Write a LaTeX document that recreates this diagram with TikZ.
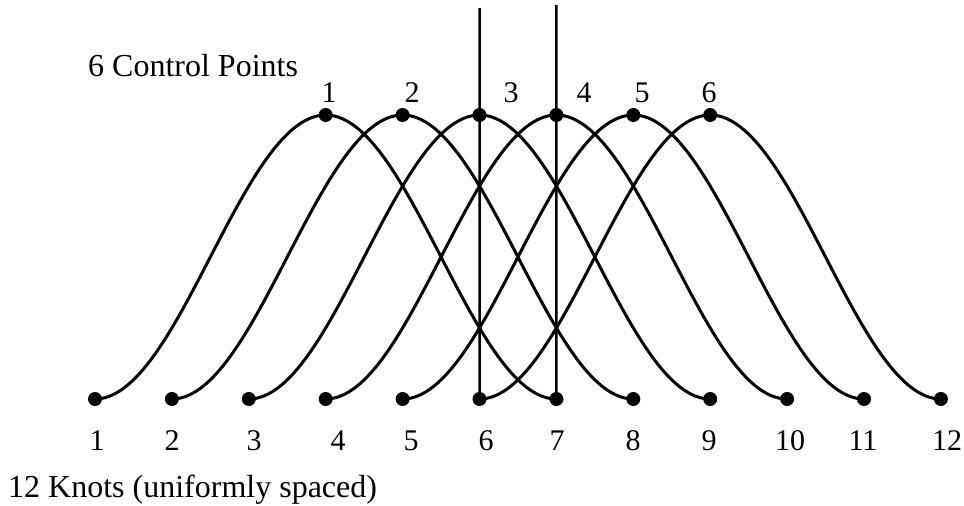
\documentclass[tikz,border=0pt]{standalone}
\usepackage{fontspec}
\setmainfont{Liberation Serif}
\begin{document}
\begin{tikzpicture}[x=1pt,y=-1pt,
  dot/.style={circle,fill=black,inner sep=0pt,minimum size=14pt},
  curve/.style={line width=3pt},
  vline/.style={line width=2.5pt},
  lbl/.style={font=\fontsize{30}{30}\selectfont,inner sep=0pt},
  ttl/.style={font=\fontsize{32}{32}\selectfont,inner sep=0pt,anchor=base west}]
\useasboundingbox (0,0) rectangle (964,506);
\fill[white] (0,0) rectangle (964,506);
% knots and control points
\foreach \i in {1,...,12} \node[dot] (k\i) at ({95+76.9*(\i-1)},399) {};
\foreach \i in {1,...,6} \node[dot] (p\i) at ({95+76.9*(\i+2)},115) {};
% basis functions
\foreach \i in {1,...,6} {
  \pgfmathtruncatemacro\e{\i+6}
  \draw[curve] (k\i.center) .. controls +(83.7,0) and +(-83.7,0) .. (p\i.center)
                            .. controls +(83.7,0) and +(-83.7,0) .. (k\e.center);
}
% vertical lines
\coordinate (t1) at (479.5,8);
\coordinate (t2) at (556.4,5);
\draw[vline] (k6.center) -- (t1);
\draw[vline] (k7.center) -- (t2);
% knot labels
\foreach \x [count=\i] in {97,172,254,338,411,486,557,633,709,790,863,947}
  \node[lbl] (kl\i) at (\x,441) {\i};
% control point labels
\foreach \x [count=\i] in {329,412,511,584,642,709}
  \node[lbl] (pl\i) at (\x,93) {\i};
% titles
\node[ttl] (cp) at (88,76) {6 Control Points};
\node[ttl] (kn) at (8,497) {12 Knots (uniformly spaced)};
\end{tikzpicture}
\end{document}
